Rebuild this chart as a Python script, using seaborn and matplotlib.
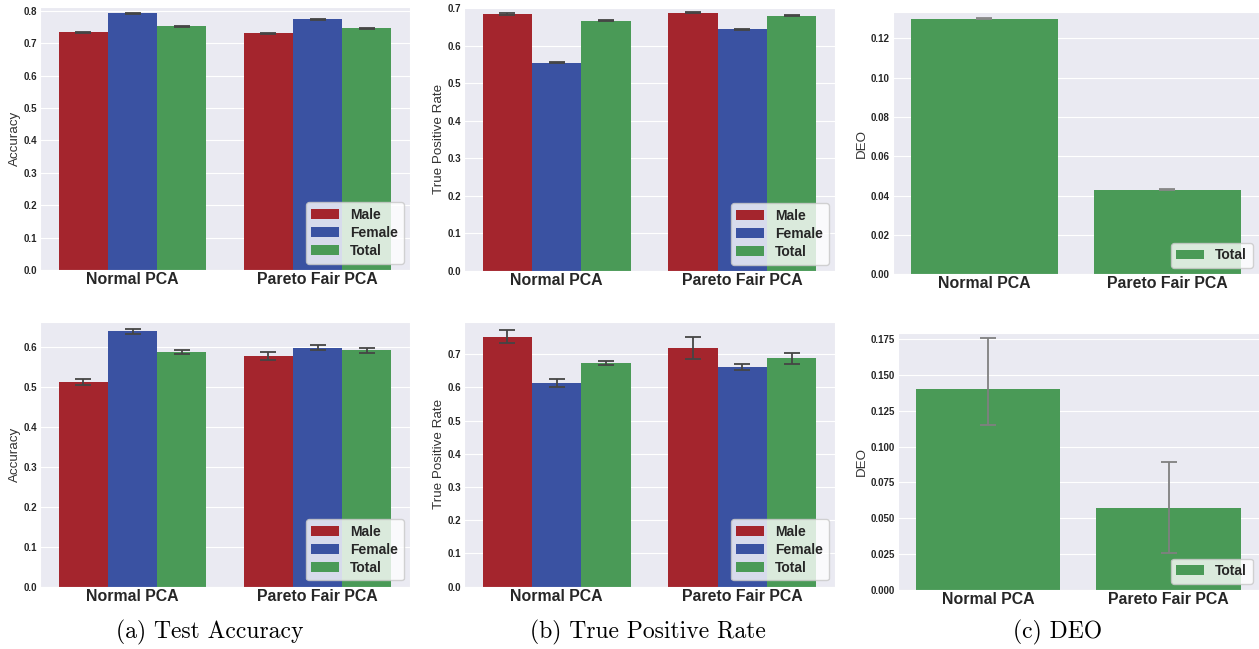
import numpy as np
import pandas as pd
import matplotlib
matplotlib.use("Agg")
import matplotlib.pyplot as plt
from matplotlib.ticker import MultipleLocator
import seaborn as sns

# ---- data ----
methods = ["Normal PCA", "Pareto Fair PCA"]
groups = ["Male", "Female", "Total"]
group_colors = ["#A4252D", "#3A52A2", "#4A9A57"]

# top row
acc_top = {"Male": [0.734, 0.731], "Female": [0.792, 0.774], "Total": [0.753, 0.746]}
acc_top_err = {"Male": [0.0015, 0.0015], "Female": [0.0015, 0.0015], "Total": [0.0015, 0.0015]}
tpr_top = {"Male": [0.684, 0.687], "Female": [0.554, 0.644], "Total": [0.666, 0.680]}
tpr_top_err = {"Male": [0.0015, 0.0015], "Female": [0.0015, 0.0015], "Total": [0.0015, 0.0015]}
deo_top = {"Total": [0.130, 0.043]}
deo_top_err = {"Total": [0.0003, 0.0003]}

# bottom row
acc_bot = {"Male": [0.512, 0.576], "Female": [0.639, 0.598], "Total": [0.588, 0.591]}
acc_bot_err = {"Male": [0.008, 0.010], "Female": [0.006, 0.006], "Total": [0.005, 0.007]}
tpr_bot = {"Male": [0.753, 0.720], "Female": [0.613, 0.661], "Total": [0.674, 0.688]}
tpr_bot_err = {"Male": [0.020, 0.033], "Female": [0.011, 0.0085], "Total": [0.0065, 0.017]}
deo_bot = {"Total": [0.140, 0.057]}
deo_bot_low = [0.115, 0.026]
deo_bot_high = [0.1755, 0.0895]

captions = ["(a) Test Accuracy", "(b) True Positive Rate", "(c) DEO"]

W, H = 1259, 649
sns.set_style("darkgrid")
plt.rcParams["font.family"] = ["Liberation Sans", "DejaVu Sans"]
plt.rcParams["text.color"] = "#262626"


def to_long(values):
    rows = []
    for g, vals in values.items():
        for m, v in zip(methods, vals):
            rows.append({"method": m, "group": g, "value": v})
    return pd.DataFrame(rows)


def panel(fig, box, values, yerr, ylabel, ylim, ecolor="#454545", ystep=None, yfmt=None):
    left, top, right, bottom = box
    ax = fig.add_axes([left / W, 1 - bottom / H, (right - left) / W, (bottom - top) / H])
    df = to_long(values)
    hue_order = list(values.keys())
    pal = [group_colors[groups.index(g)] for g in hue_order]
    sns.barplot(data=df, x="method", y="value", hue="group", hue_order=hue_order,
                palette=pal, saturation=1, errorbar=None, linewidth=0, ax=ax)
    # error bars on top of the seaborn bars
    for cont, g in zip(ax.containers, hue_order):
        xs = [p.get_x() + p.get_width() / 2 for p in cont.patches]
        ys = [p.get_height() for p in cont.patches]
        ax.errorbar(xs, ys, yerr=yerr[g], fmt="none", ecolor=ecolor,
                    elinewidth=1.3, capsize=6, capthick=1.3, zorder=5)
    ax.set_ylim(*ylim)
    ax.set_xlim(-0.5, 1.5)
    if ystep:
        ax.yaxis.set_major_locator(MultipleLocator(ystep))
    if yfmt:
        ax.yaxis.set_major_formatter(yfmt)
    ax.set_xlabel("")
    ax.set_ylabel(ylabel, fontsize=9.6, color="#333333", labelpad=2)
    ax.tick_params(axis="y", labelsize=7, length=0, pad=2.2, labelcolor="#262626")
    ax.tick_params(axis="x", labelsize=11.4, length=0, pad=1.5, labelcolor="#262626")
    for t in ax.get_xticklabels() + ax.get_yticklabels():
        t.set_fontweight("bold")
    leg = ax.get_legend()
    handles = leg.legend_handles
    labels = [t.get_text() for t in leg.get_texts()]
    ax.legend(handles, labels, loc="lower right", prop={"weight": "bold", "size": 10},
              frameon=True, framealpha=0.8, facecolor="white", edgecolor="#c8c8c8",
              labelspacing=0.3, borderaxespad=0.45)
    return ax


fig = plt.figure(figsize=(W / 100, H / 100), dpi=100)

panel(fig, (40, 6.7, 410, 270), acc_top, acc_top_err, "Accuracy", (0, 0.8127))
panel(fig, (464, 7.3, 835, 271), tpr_top, tpr_top_err, "True Positive Rate", (0, 0.702))
panel(fig, (892.7, 11.7, 1259, 274.3), deo_top, deo_top_err, "DEO", (0, 0.1335),
      ecolor="#888888")

panel(fig, (40, 321.7, 410, 586.7), acc_bot, acc_bot_err, "Accuracy", (0, 0.6625))
panel(fig, (464, 321.7, 835, 586.7), tpr_bot, tpr_bot_err, "True Positive Rate", (0, 0.798))
deo_bot_err = {"Total": [np.subtract(deo_bot["Total"], deo_bot_low),
                         np.subtract(deo_bot_high, deo_bot["Total"])]}
panel(fig, (897.7, 333.3, 1259, 590), deo_bot, deo_bot_err, "DEO", (0, 0.179),
      ecolor="#808080", ystep=0.025, yfmt="{x:.3f}")

for cx, cap in zip([209.5, 648, 1058], captions):
    fig.text(cx / W, 1 - 632 / H, cap, ha="center", va="center",
             fontsize=17, family=["cmr10", "DejaVu Serif"], color="black")

fig.savefig("out.png", dpi=100)
